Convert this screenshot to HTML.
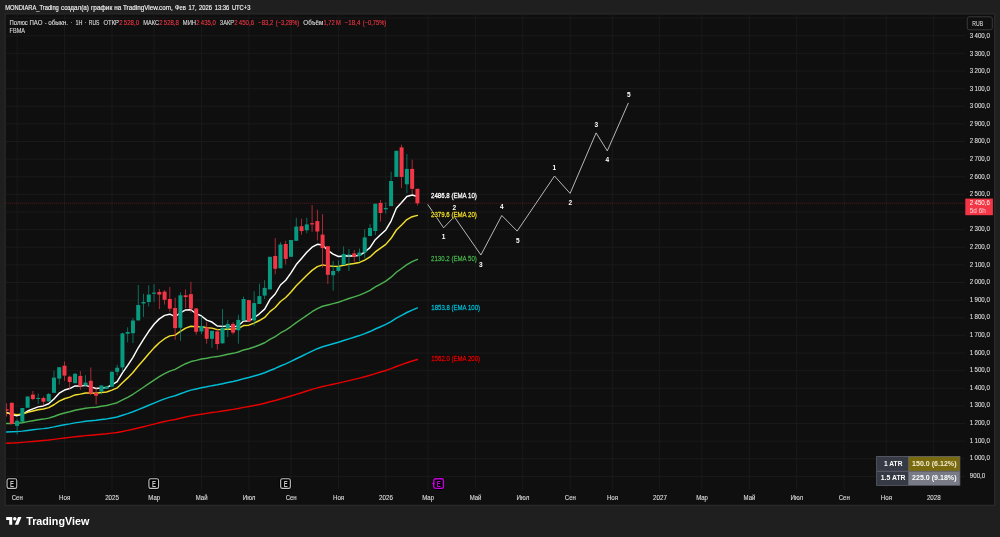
<!DOCTYPE html>
<html lang="ru"><head><meta charset="utf-8"><title>Полюс ПАО — TradingView</title>
<style>html,body{margin:0;padding:0;background:#1f1f1f;overflow:hidden}svg{display:block}</style></head>
<body>
<svg width="1000" height="537" viewBox="0 0 1000 537" font-family="'Liberation Sans', sans-serif">
<rect width="1000" height="537" fill="#1f1f1f"/>
<rect x="4.5" y="13.2" width="990.8000000000001" height="492.8" rx="1" fill="#292929"/>
<rect x="5.8" y="14.5" width="988.2" height="490.2" fill="#0f0f0f"/>
<g stroke="#1a1a1a" stroke-width="1" shape-rendering="auto">
<line x1="5.8" y1="476.40" x2="965.0" y2="476.40"/>
<line x1="5.8" y1="458.77" x2="965.0" y2="458.77"/>
<line x1="5.8" y1="441.15" x2="965.0" y2="441.15"/>
<line x1="5.8" y1="423.52" x2="965.0" y2="423.52"/>
<line x1="5.8" y1="405.90" x2="965.0" y2="405.90"/>
<line x1="5.8" y1="388.27" x2="965.0" y2="388.27"/>
<line x1="5.8" y1="370.64" x2="965.0" y2="370.64"/>
<line x1="5.8" y1="353.02" x2="965.0" y2="353.02"/>
<line x1="5.8" y1="335.39" x2="965.0" y2="335.39"/>
<line x1="5.8" y1="317.77" x2="965.0" y2="317.77"/>
<line x1="5.8" y1="300.14" x2="965.0" y2="300.14"/>
<line x1="5.8" y1="282.51" x2="965.0" y2="282.51"/>
<line x1="5.8" y1="264.89" x2="965.0" y2="264.89"/>
<line x1="5.8" y1="247.26" x2="965.0" y2="247.26"/>
<line x1="5.8" y1="229.64" x2="965.0" y2="229.64"/>
<line x1="5.8" y1="212.01" x2="965.0" y2="212.01"/>
<line x1="5.8" y1="194.38" x2="965.0" y2="194.38"/>
<line x1="5.8" y1="176.76" x2="965.0" y2="176.76"/>
<line x1="5.8" y1="159.13" x2="965.0" y2="159.13"/>
<line x1="5.8" y1="141.51" x2="965.0" y2="141.51"/>
<line x1="5.8" y1="123.88" x2="965.0" y2="123.88"/>
<line x1="5.8" y1="106.25" x2="965.0" y2="106.25"/>
<line x1="5.8" y1="88.63" x2="965.0" y2="88.63"/>
<line x1="5.8" y1="71.00" x2="965.0" y2="71.00"/>
<line x1="5.8" y1="53.38" x2="965.0" y2="53.38"/>
<line x1="5.8" y1="35.75" x2="965.0" y2="35.75"/>
<line x1="5.8" y1="18.12" x2="965.0" y2="18.12"/>
<line x1="17.09" y1="14.5" x2="17.09" y2="489.6"/>
<line x1="64.49" y1="14.5" x2="64.49" y2="489.6"/>
<line x1="111.90" y1="14.5" x2="111.90" y2="489.6"/>
<line x1="154.04" y1="14.5" x2="154.04" y2="489.6"/>
<line x1="201.45" y1="14.5" x2="201.45" y2="489.6"/>
<line x1="248.86" y1="14.5" x2="248.86" y2="489.6"/>
<line x1="291.00" y1="14.5" x2="291.00" y2="489.6"/>
<line x1="338.40" y1="14.5" x2="338.40" y2="489.6"/>
<line x1="385.81" y1="14.5" x2="385.81" y2="489.6"/>
<line x1="427.95" y1="14.5" x2="427.95" y2="489.6"/>
<line x1="475.36" y1="14.5" x2="475.36" y2="489.6"/>
<line x1="522.76" y1="14.5" x2="522.76" y2="489.6"/>
<line x1="570.17" y1="14.5" x2="570.17" y2="489.6"/>
<line x1="612.31" y1="14.5" x2="612.31" y2="489.6"/>
<line x1="659.72" y1="14.5" x2="659.72" y2="489.6"/>
<line x1="701.86" y1="14.5" x2="701.86" y2="489.6"/>
<line x1="749.27" y1="14.5" x2="749.27" y2="489.6"/>
<line x1="796.67" y1="14.5" x2="796.67" y2="489.6"/>
<line x1="844.08" y1="14.5" x2="844.08" y2="489.6"/>
<line x1="886.22" y1="14.5" x2="886.22" y2="489.6"/>
<line x1="933.63" y1="14.5" x2="933.63" y2="489.6"/>
</g>
<clipPath id="cp"><rect x="5.8" y="14.5" width="959.2" height="475.1"/></clipPath>
<g clip-path="url(#cp)">
<polyline points="6.55,443.30 11.82,443.05 17.09,442.78 22.35,442.39 27.62,441.90 32.89,441.43 38.16,440.96 43.42,440.54 48.69,440.04 53.96,439.39 59.22,438.64 64.49,437.98 69.76,437.39 75.03,436.72 80.30,436.19 85.56,435.63 90.83,435.19 96.10,434.76 101.36,434.25 106.63,433.74 111.90,433.10 117.17,432.43 122.44,431.42 127.70,430.41 132.97,429.29 138.24,428.03 143.51,426.76 148.77,425.42 154.04,424.08 159.31,422.77 164.58,421.53 169.84,420.39 175.11,419.46 180.38,418.21 185.65,416.99 190.91,415.90 196.18,415.05 201.45,414.16 206.72,413.40 211.98,412.57 217.25,411.88 222.52,411.03 227.79,410.16 233.05,409.39 238.32,408.49 243.59,407.40 248.86,406.54 254.12,405.51 259.39,404.43 264.66,403.27 269.93,401.82 275.19,400.50 280.46,398.95 285.73,397.56 291.00,396.00 296.26,394.33 301.53,392.71 306.80,391.05 312.06,389.40 317.33,387.84 322.60,386.47 327.87,385.37 333.13,384.25 338.40,383.10 343.67,381.84 348.94,380.59 354.21,379.38 359.47,378.14 364.74,376.76 370.01,375.31 375.28,373.63 380.54,372.06 385.81,370.45 391.08,368.60 396.35,366.47 401.61,364.62 406.88,362.71 412.15,361.02 417.42,359.51" fill="none" stroke="#e60000" stroke-width="1.45" stroke-linejoin="round" stroke-linecap="round"/>
<polyline points="6.55,432.00 11.82,431.83 17.09,431.60 22.35,431.12 27.62,430.42 32.89,429.79 38.16,429.15 43.42,428.60 48.69,427.91 53.96,426.90 59.22,425.71 64.49,424.71 69.76,423.85 75.03,422.85 80.30,422.12 85.56,421.33 90.83,420.77 96.10,420.27 101.36,419.57 106.63,418.91 111.90,417.97 117.17,416.96 122.44,415.30 127.70,413.64 132.97,411.79 138.24,409.67 143.51,407.53 148.77,405.29 154.04,403.05 159.31,400.90 164.58,398.89 169.84,397.10 175.11,395.72 180.38,393.73 185.65,391.81 190.91,390.16 196.18,389.00 201.45,387.75 206.72,386.77 211.98,385.66 217.25,384.83 222.52,383.70 227.79,382.51 233.05,381.52 238.32,380.30 243.59,378.68 248.86,377.55 254.12,376.07 259.39,374.49 264.66,372.77 269.93,370.47 275.19,368.46 280.46,366.00 285.73,363.88 291.00,361.43 296.26,358.76 301.53,356.23 306.80,353.62 312.06,351.07 317.33,348.70 322.60,346.71 327.87,345.29 333.13,343.82 338.40,342.30 343.67,340.55 348.94,338.85 354.21,337.23 359.47,335.56 364.74,333.62 370.01,331.53 375.28,329.01 380.54,326.72 385.81,324.37 391.08,321.54 396.35,318.17 401.61,315.38 406.88,312.49 412.15,310.05 417.42,307.95" fill="none" stroke="#00bcd4" stroke-width="1.45" stroke-linejoin="round" stroke-linecap="round"/>
<polyline points="6.55,423.40 11.82,423.40 17.09,423.28 22.35,422.67 27.62,421.63 32.89,420.72 38.16,419.82 43.42,419.09 48.69,418.09 53.96,416.49 59.22,414.54 64.49,412.99 69.76,411.76 75.03,410.26 80.30,409.30 85.56,408.24 90.83,407.65 96.10,407.17 101.36,406.30 106.63,405.50 111.90,404.16 117.17,402.72 122.44,399.98 127.70,397.30 132.97,394.27 138.24,390.76 143.51,387.26 148.77,383.61 154.04,380.03 159.31,376.66 164.58,373.63 169.84,371.07 175.11,369.37 180.38,366.45 185.65,363.72 190.91,361.55 196.18,360.37 201.45,359.01 206.72,358.20 211.98,357.11 217.25,356.59 222.52,355.45 227.79,354.20 233.05,353.34 238.32,352.02 243.59,349.93 248.86,348.81 254.12,347.00 259.39,345.00 264.66,342.75 269.93,339.38 275.19,336.60 280.46,332.98 285.73,330.07 291.00,326.54 296.26,322.61 301.53,319.02 306.80,315.31 312.06,311.74 317.33,308.59 322.60,306.22 327.87,304.99 333.13,303.65 338.40,302.21 343.67,300.32 348.94,298.53 354.21,296.89 359.47,295.15 364.74,292.89 370.01,290.35 375.28,286.96 380.54,284.07 385.81,281.09 391.08,277.18 396.35,272.23 401.61,268.50 406.88,264.61 412.15,261.65 417.42,259.39" fill="none" stroke="#4caf50" stroke-width="1.45" stroke-linejoin="round" stroke-linecap="round"/>
<polyline points="6.55,412.40 11.82,414.53 17.09,415.67 22.35,414.27 27.62,411.04 32.89,408.85 38.16,406.88 43.42,405.94 48.69,403.77 53.96,399.01 59.22,393.23 64.49,390.02 69.76,388.56 75.03,385.88 80.30,385.96 85.56,385.35 90.83,386.86 96.10,388.47 101.36,387.93 106.63,387.63 111.90,384.76 117.17,381.65 122.44,372.88 127.70,365.45 132.97,357.28 138.24,347.77 143.51,339.45 148.77,331.29 154.04,324.26 159.31,318.87 164.58,315.40 169.84,314.18 175.11,316.71 180.38,312.82 185.65,309.96 190.91,309.73 196.18,313.74 201.45,315.95 206.72,320.11 211.98,322.05 217.25,326.04 222.52,326.36 227.79,325.91 233.05,327.13 238.32,325.82 243.59,320.94 248.86,321.02 254.12,317.76 259.39,313.83 264.66,309.11 269.93,299.60 275.19,294.00 280.46,285.00 285.73,280.25 291.00,272.94 296.26,264.51 301.53,258.44 306.80,252.25 312.06,247.18 317.33,244.33 322.60,245.02 327.87,250.43 333.13,254.17 338.40,256.47 343.67,256.02 348.94,255.74 354.21,255.92 359.47,255.30 364.74,252.04 370.01,247.67 375.28,239.68 380.54,234.83 385.81,229.95 391.08,221.05 396.35,208.28 401.61,202.57 406.88,196.45 412.15,195.06 417.42,196.56" fill="none" stroke="#ffffff" stroke-width="1.45" stroke-linejoin="round" stroke-linecap="round"/>
<polyline points="6.55,412.90 11.82,413.97 17.09,414.62 22.35,413.99 27.62,412.32 32.89,411.05 38.16,409.81 43.42,409.04 48.69,407.61 53.96,404.75 59.22,401.17 64.49,398.74 69.76,397.14 75.03,394.92 80.30,394.10 85.56,393.00 90.83,393.07 96.10,393.32 101.36,392.58 106.63,391.98 111.90,390.06 117.17,387.93 122.44,382.73 127.70,377.90 132.97,372.44 138.24,366.01 143.51,359.92 148.77,353.70 154.04,347.88 159.31,342.80 164.58,338.71 169.84,335.85 175.11,335.11 180.38,331.32 185.65,328.06 190.91,326.22 196.18,326.75 201.45,326.67 206.72,327.82 211.98,328.11 217.25,329.62 222.52,329.45 227.79,328.92 233.05,329.27 238.32,328.38 243.59,325.58 248.86,325.18 254.12,323.08 259.39,320.51 264.66,317.40 269.93,311.63 275.19,307.55 280.46,301.55 285.73,297.49 291.00,292.01 296.26,285.78 301.53,280.57 306.80,275.22 312.06,270.38 317.33,266.68 322.60,264.91 327.87,265.85 333.13,266.34 338.40,266.39 343.67,265.21 348.94,264.19 354.21,263.47 359.47,262.43 364.74,260.05 370.01,256.99 375.28,251.92 380.54,248.21 385.81,244.38 391.08,238.35 396.35,230.01 401.61,224.95 406.88,219.61 412.15,216.68 417.42,215.40" fill="none" stroke="#f2de2e" stroke-width="1.45" stroke-linejoin="round" stroke-linecap="round"/>
<rect x="6.15" y="403.20" width="0.8" height="13.40" fill="#f23645" fill-opacity="0.85"/>
<rect x="4.55" y="409.20" width="4.0" height="1.50" fill="#f23645"/>
<rect x="11.42" y="402.50" width="0.8" height="21.60" fill="#f23645" fill-opacity="0.85"/>
<rect x="9.82" y="402.80" width="4.0" height="21.30" fill="#f23645"/>
<rect x="16.69" y="418.80" width="0.8" height="15.70" fill="#089981" fill-opacity="0.85"/>
<rect x="15.09" y="420.80" width="4.0" height="5.10" fill="#089981"/>
<rect x="21.95" y="408.00" width="0.8" height="13.80" fill="#089981" fill-opacity="0.85"/>
<rect x="20.35" y="408.00" width="4.0" height="13.80" fill="#089981"/>
<rect x="27.22" y="396.50" width="0.8" height="11.20" fill="#089981" fill-opacity="0.85"/>
<rect x="25.62" y="396.50" width="4.0" height="11.20" fill="#089981"/>
<rect x="32.49" y="391.00" width="0.8" height="9.20" fill="#f23645" fill-opacity="0.85"/>
<rect x="30.89" y="394.60" width="4.0" height="4.40" fill="#f23645"/>
<rect x="37.76" y="393.50" width="0.8" height="10.50" fill="#089981" fill-opacity="0.85"/>
<rect x="36.16" y="398.00" width="4.0" height="1.00" fill="#089981"/>
<rect x="43.02" y="396.50" width="0.8" height="8.90" fill="#f23645" fill-opacity="0.85"/>
<rect x="41.42" y="398.00" width="4.0" height="3.70" fill="#f23645"/>
<rect x="48.29" y="393.00" width="0.8" height="8.70" fill="#089981" fill-opacity="0.85"/>
<rect x="46.69" y="394.00" width="4.0" height="7.40" fill="#089981"/>
<rect x="53.56" y="370.70" width="0.8" height="22.10" fill="#089981" fill-opacity="0.85"/>
<rect x="51.96" y="377.60" width="4.0" height="15.20" fill="#089981"/>
<rect x="58.82" y="367.20" width="0.8" height="17.40" fill="#089981" fill-opacity="0.85"/>
<rect x="57.22" y="367.20" width="4.0" height="11.40" fill="#089981"/>
<rect x="64.09" y="361.50" width="0.8" height="19.40" fill="#f23645" fill-opacity="0.85"/>
<rect x="62.49" y="365.70" width="4.0" height="9.90" fill="#f23645"/>
<rect x="69.36" y="375.60" width="0.8" height="13.40" fill="#f23645" fill-opacity="0.85"/>
<rect x="67.76" y="376.70" width="4.0" height="5.30" fill="#f23645"/>
<rect x="74.63" y="372.90" width="0.8" height="10.40" fill="#089981" fill-opacity="0.85"/>
<rect x="73.03" y="373.80" width="4.0" height="9.40" fill="#089981"/>
<rect x="79.89" y="371.10" width="0.8" height="18.60" fill="#f23645" fill-opacity="0.85"/>
<rect x="78.30" y="375.90" width="4.0" height="10.40" fill="#f23645"/>
<rect x="85.16" y="375.10" width="0.8" height="11.20" fill="#089981" fill-opacity="0.85"/>
<rect x="83.56" y="382.60" width="4.0" height="2.90" fill="#089981"/>
<rect x="90.43" y="367.40" width="0.8" height="27.80" fill="#f23645" fill-opacity="0.85"/>
<rect x="88.83" y="380.80" width="4.0" height="12.90" fill="#f23645"/>
<rect x="95.70" y="387.00" width="0.8" height="17.50" fill="#f23645" fill-opacity="0.85"/>
<rect x="94.10" y="393.00" width="4.0" height="2.70" fill="#f23645"/>
<rect x="100.96" y="385.10" width="0.8" height="9.40" fill="#089981" fill-opacity="0.85"/>
<rect x="99.36" y="385.50" width="4.0" height="6.00" fill="#089981"/>
<rect x="106.23" y="386.00" width="0.8" height="3.00" fill="#089981" fill-opacity="0.85"/>
<rect x="104.63" y="386.30" width="4.0" height="2.50" fill="#089981"/>
<rect x="111.50" y="371.40" width="0.8" height="15.90" fill="#089981" fill-opacity="0.85"/>
<rect x="109.90" y="371.80" width="4.0" height="14.90" fill="#089981"/>
<rect x="116.77" y="364.70" width="0.8" height="10.70" fill="#089981" fill-opacity="0.85"/>
<rect x="115.17" y="367.70" width="4.0" height="4.10" fill="#089981"/>
<rect x="122.03" y="332.70" width="0.8" height="39.40" fill="#089981" fill-opacity="0.85"/>
<rect x="120.44" y="333.40" width="4.0" height="34.00" fill="#089981"/>
<rect x="127.30" y="327.30" width="0.8" height="15.10" fill="#089981" fill-opacity="0.85"/>
<rect x="125.70" y="332.00" width="4.0" height="1.70" fill="#089981"/>
<rect x="132.57" y="318.00" width="0.8" height="25.00" fill="#089981" fill-opacity="0.85"/>
<rect x="130.97" y="320.50" width="4.0" height="12.70" fill="#089981"/>
<rect x="137.84" y="284.90" width="0.8" height="35.50" fill="#089981" fill-opacity="0.85"/>
<rect x="136.24" y="305.00" width="4.0" height="15.40" fill="#089981"/>
<rect x="143.11" y="293.80" width="0.8" height="23.10" fill="#089981" fill-opacity="0.85"/>
<rect x="141.51" y="302.00" width="4.0" height="1.50" fill="#089981"/>
<rect x="148.37" y="285.30" width="0.8" height="21.20" fill="#089981" fill-opacity="0.85"/>
<rect x="146.77" y="294.60" width="4.0" height="7.40" fill="#089981"/>
<rect x="153.64" y="284.20" width="0.8" height="17.80" fill="#089981" fill-opacity="0.85"/>
<rect x="152.04" y="292.60" width="4.0" height="1.20" fill="#089981"/>
<rect x="158.91" y="289.00" width="0.8" height="20.00" fill="#f23645" fill-opacity="0.85"/>
<rect x="157.31" y="292.00" width="4.0" height="2.60" fill="#f23645"/>
<rect x="164.18" y="290.10" width="0.8" height="14.50" fill="#f23645" fill-opacity="0.85"/>
<rect x="162.58" y="291.60" width="4.0" height="8.20" fill="#f23645"/>
<rect x="169.44" y="287.10" width="0.8" height="24.60" fill="#f23645" fill-opacity="0.85"/>
<rect x="167.84" y="299.00" width="4.0" height="9.70" fill="#f23645"/>
<rect x="174.71" y="297.60" width="0.8" height="42.10" fill="#f23645" fill-opacity="0.85"/>
<rect x="173.11" y="308.00" width="4.0" height="20.10" fill="#f23645"/>
<rect x="179.98" y="292.30" width="0.8" height="48.50" fill="#089981" fill-opacity="0.85"/>
<rect x="178.38" y="295.30" width="4.0" height="32.50" fill="#089981"/>
<rect x="185.25" y="289.40" width="0.8" height="18.60" fill="#f23645" fill-opacity="0.85"/>
<rect x="183.65" y="295.30" width="4.0" height="1.80" fill="#f23645"/>
<rect x="190.51" y="281.90" width="0.8" height="30.60" fill="#f23645" fill-opacity="0.85"/>
<rect x="188.91" y="294.10" width="4.0" height="14.60" fill="#f23645"/>
<rect x="195.78" y="308.00" width="0.8" height="26.80" fill="#f23645" fill-opacity="0.85"/>
<rect x="194.18" y="308.50" width="4.0" height="23.30" fill="#f23645"/>
<rect x="201.05" y="316.20" width="0.8" height="17.90" fill="#089981" fill-opacity="0.85"/>
<rect x="199.45" y="325.90" width="4.0" height="5.50" fill="#089981"/>
<rect x="206.31" y="322.10" width="0.8" height="21.60" fill="#f23645" fill-opacity="0.85"/>
<rect x="204.72" y="327.40" width="4.0" height="11.40" fill="#f23645"/>
<rect x="211.58" y="330.80" width="0.8" height="17.00" fill="#089981" fill-opacity="0.85"/>
<rect x="209.98" y="330.80" width="4.0" height="8.00" fill="#089981"/>
<rect x="216.85" y="328.80" width="0.8" height="20.90" fill="#f23645" fill-opacity="0.85"/>
<rect x="215.25" y="331.40" width="4.0" height="12.60" fill="#f23645"/>
<rect x="222.12" y="309.00" width="0.8" height="34.70" fill="#089981" fill-opacity="0.85"/>
<rect x="220.52" y="327.80" width="4.0" height="15.50" fill="#089981"/>
<rect x="227.39" y="319.90" width="0.8" height="17.10" fill="#089981" fill-opacity="0.85"/>
<rect x="225.79" y="323.90" width="4.0" height="4.50" fill="#089981"/>
<rect x="232.65" y="322.10" width="0.8" height="12.30" fill="#f23645" fill-opacity="0.85"/>
<rect x="231.05" y="323.90" width="4.0" height="8.70" fill="#f23645"/>
<rect x="237.92" y="314.70" width="0.8" height="29.00" fill="#089981" fill-opacity="0.85"/>
<rect x="236.32" y="319.90" width="4.0" height="10.40" fill="#089981"/>
<rect x="243.19" y="296.50" width="0.8" height="24.20" fill="#089981" fill-opacity="0.85"/>
<rect x="241.59" y="299.00" width="4.0" height="21.70" fill="#089981"/>
<rect x="248.46" y="299.80" width="0.8" height="22.30" fill="#f23645" fill-opacity="0.85"/>
<rect x="246.86" y="300.10" width="4.0" height="21.30" fill="#f23645"/>
<rect x="253.72" y="291.20" width="0.8" height="34.70" fill="#089981" fill-opacity="0.85"/>
<rect x="252.12" y="303.10" width="4.0" height="17.30" fill="#089981"/>
<rect x="258.99" y="283.70" width="0.8" height="20.30" fill="#089981" fill-opacity="0.85"/>
<rect x="257.39" y="296.10" width="4.0" height="7.90" fill="#089981"/>
<rect x="264.26" y="280.10" width="0.8" height="18.90" fill="#089981" fill-opacity="0.85"/>
<rect x="262.66" y="287.90" width="4.0" height="7.70" fill="#089981"/>
<rect x="269.53" y="256.80" width="0.8" height="32.60" fill="#089981" fill-opacity="0.85"/>
<rect x="267.93" y="256.80" width="4.0" height="32.60" fill="#089981"/>
<rect x="274.79" y="238.10" width="0.8" height="36.20" fill="#f23645" fill-opacity="0.85"/>
<rect x="273.19" y="256.00" width="4.0" height="12.80" fill="#f23645"/>
<rect x="280.06" y="242.20" width="0.8" height="26.10" fill="#089981" fill-opacity="0.85"/>
<rect x="278.46" y="244.50" width="4.0" height="23.80" fill="#089981"/>
<rect x="285.33" y="240.80" width="0.8" height="23.80" fill="#f23645" fill-opacity="0.85"/>
<rect x="283.73" y="244.00" width="4.0" height="14.90" fill="#f23645"/>
<rect x="290.60" y="240.00" width="0.8" height="16.80" fill="#089981" fill-opacity="0.85"/>
<rect x="289.00" y="240.00" width="4.0" height="16.80" fill="#089981"/>
<rect x="295.86" y="217.70" width="0.8" height="23.10" fill="#089981" fill-opacity="0.85"/>
<rect x="294.26" y="226.60" width="4.0" height="14.20" fill="#089981"/>
<rect x="301.13" y="218.70" width="0.8" height="16.10" fill="#f23645" fill-opacity="0.85"/>
<rect x="299.53" y="226.20" width="4.0" height="4.90" fill="#f23645"/>
<rect x="306.40" y="217.70" width="0.8" height="15.60" fill="#089981" fill-opacity="0.85"/>
<rect x="304.80" y="224.40" width="4.0" height="5.90" fill="#089981"/>
<rect x="311.67" y="205.00" width="0.8" height="26.80" fill="#f23645" fill-opacity="0.85"/>
<rect x="310.06" y="223.20" width="4.0" height="1.20" fill="#f23645"/>
<rect x="316.93" y="209.80" width="0.8" height="30.70" fill="#f23645" fill-opacity="0.85"/>
<rect x="315.33" y="221.10" width="4.0" height="10.40" fill="#f23645"/>
<rect x="322.20" y="214.20" width="0.8" height="53.50" fill="#f23645" fill-opacity="0.85"/>
<rect x="320.60" y="234.60" width="4.0" height="13.50" fill="#f23645"/>
<rect x="327.47" y="246.20" width="0.8" height="37.70" fill="#f23645" fill-opacity="0.85"/>
<rect x="325.87" y="246.20" width="4.0" height="28.60" fill="#f23645"/>
<rect x="332.74" y="261.00" width="0.8" height="29.70" fill="#089981" fill-opacity="0.85"/>
<rect x="331.13" y="271.00" width="4.0" height="4.20" fill="#089981"/>
<rect x="338.00" y="260.40" width="0.8" height="12.00" fill="#089981" fill-opacity="0.85"/>
<rect x="336.40" y="266.80" width="4.0" height="4.10" fill="#089981"/>
<rect x="343.27" y="246.30" width="0.8" height="18.60" fill="#089981" fill-opacity="0.85"/>
<rect x="341.67" y="254.00" width="4.0" height="10.90" fill="#089981"/>
<rect x="348.54" y="249.00" width="0.8" height="21.90" fill="#089981" fill-opacity="0.85"/>
<rect x="346.94" y="254.50" width="4.0" height="1.00" fill="#089981"/>
<rect x="353.81" y="250.00" width="0.8" height="12.40" fill="#f23645" fill-opacity="0.85"/>
<rect x="352.21" y="253.40" width="4.0" height="3.30" fill="#f23645"/>
<rect x="359.07" y="248.50" width="0.8" height="12.70" fill="#089981" fill-opacity="0.85"/>
<rect x="357.47" y="252.50" width="4.0" height="3.50" fill="#089981"/>
<rect x="364.34" y="229.10" width="0.8" height="29.10" fill="#089981" fill-opacity="0.85"/>
<rect x="362.74" y="237.40" width="4.0" height="15.10" fill="#089981"/>
<rect x="369.61" y="224.20" width="0.8" height="12.00" fill="#089981" fill-opacity="0.85"/>
<rect x="368.01" y="228.00" width="4.0" height="8.00" fill="#089981"/>
<rect x="374.88" y="203.70" width="0.8" height="31.30" fill="#089981" fill-opacity="0.85"/>
<rect x="373.28" y="203.70" width="4.0" height="27.30" fill="#089981"/>
<rect x="380.14" y="200.00" width="0.8" height="21.60" fill="#f23645" fill-opacity="0.85"/>
<rect x="378.54" y="202.90" width="4.0" height="10.10" fill="#f23645"/>
<rect x="385.41" y="202.40" width="0.8" height="11.20" fill="#089981" fill-opacity="0.85"/>
<rect x="383.81" y="208.00" width="4.0" height="1.30" fill="#089981"/>
<rect x="390.68" y="171.70" width="0.8" height="34.40" fill="#089981" fill-opacity="0.85"/>
<rect x="389.08" y="181.00" width="4.0" height="25.10" fill="#089981"/>
<rect x="395.95" y="150.80" width="0.8" height="26.10" fill="#089981" fill-opacity="0.85"/>
<rect x="394.35" y="150.80" width="4.0" height="26.10" fill="#089981"/>
<rect x="401.21" y="144.70" width="0.8" height="43.30" fill="#f23645" fill-opacity="0.85"/>
<rect x="399.61" y="147.40" width="4.0" height="29.50" fill="#f23645"/>
<rect x="406.48" y="154.00" width="0.8" height="39.10" fill="#089981" fill-opacity="0.85"/>
<rect x="404.88" y="168.90" width="4.0" height="15.40" fill="#089981"/>
<rect x="411.75" y="159.60" width="0.8" height="34.40" fill="#f23645" fill-opacity="0.85"/>
<rect x="410.15" y="168.90" width="4.0" height="19.90" fill="#f23645"/>
<rect x="417.02" y="188.80" width="0.8" height="16.70" fill="#f23645" fill-opacity="0.85"/>
<rect x="415.42" y="188.80" width="4.0" height="14.50" fill="#f23645"/>
</g>
<line x1="5.8" y1="203.2" x2="965.0" y2="203.2" stroke="#f23645" stroke-opacity="0.34" stroke-width="1" stroke-dasharray="1 1"/>
<polyline points="427.7,204.4 443.6,227.8 454.3,216.7 480.9,255 501.8,215.5 517.2,231.1 554.5,176.0 570.1,193.4 596.1,132.9 607.3,150.9 628.4,102.9" fill="none" stroke="#c8c8c8" stroke-width="0.9" stroke-linejoin="miter"/>
<text x="443.6" y="238.9" font-size="6.5" font-weight="bold" fill="#ffffff" text-anchor="middle">1</text>
<text x="454.3" y="209.8" font-size="6.5" font-weight="bold" fill="#ffffff" text-anchor="middle">2</text>
<text x="480.9" y="266.6" font-size="6.5" font-weight="bold" fill="#ffffff" text-anchor="middle">3</text>
<text x="501.8" y="209.20000000000002" font-size="6.5" font-weight="bold" fill="#ffffff" text-anchor="middle">4</text>
<text x="517.8" y="242.60000000000002" font-size="6.5" font-weight="bold" fill="#ffffff" text-anchor="middle">5</text>
<text x="554.4" y="170.20000000000002" font-size="6.5" font-weight="bold" fill="#ffffff" text-anchor="middle">1</text>
<text x="570.3" y="204.60000000000002" font-size="6.5" font-weight="bold" fill="#ffffff" text-anchor="middle">2</text>
<text x="596.4" y="126.6" font-size="6.5" font-weight="bold" fill="#ffffff" text-anchor="middle">3</text>
<text x="607.3" y="162.3" font-size="6.5" font-weight="bold" fill="#ffffff" text-anchor="middle">4</text>
<text x="628.7" y="96.6" font-size="6.5" font-weight="bold" fill="#ffffff" text-anchor="middle">5</text>
<text x="431.1" y="198.29999999999998" font-size="7.1" fill="#000" textLength="45.7" lengthAdjust="spacingAndGlyphs" stroke="#000" stroke-width="1.1">2486.8 (EMA 10)</text>
<text x="431.1" y="198.29999999999998" font-size="7.1" fill="#ffffff" textLength="45.7" lengthAdjust="spacingAndGlyphs" stroke="#ffffff" stroke-width="0.28">2486.8 (EMA 10)</text>
<text x="431.1" y="217.29999999999998" font-size="7.1" fill="#000" textLength="45.7" lengthAdjust="spacingAndGlyphs" stroke="#000" stroke-width="1.1">2379.6 (EMA 20)</text>
<text x="431.1" y="217.29999999999998" font-size="7.1" fill="#f2de2e" textLength="45.7" lengthAdjust="spacingAndGlyphs" stroke="#f2de2e" stroke-width="0.28">2379.6 (EMA 20)</text>
<text x="431.1" y="261.3" font-size="7.1" fill="#000" textLength="45.7" lengthAdjust="spacingAndGlyphs" stroke="#000" stroke-width="1.1">2130.2 (EMA 50)</text>
<text x="431.1" y="261.3" font-size="7.1" fill="#4caf50" textLength="45.7" lengthAdjust="spacingAndGlyphs" stroke="#4caf50" stroke-width="0.28">2130.2 (EMA 50)</text>
<text x="431.3" y="310.20000000000005" font-size="7.1" fill="#000" textLength="48.8" lengthAdjust="spacingAndGlyphs" stroke="#000" stroke-width="1.1">1853.8 (EMA 100)</text>
<text x="431.3" y="310.20000000000005" font-size="7.1" fill="#00bcd4" textLength="48.8" lengthAdjust="spacingAndGlyphs" stroke="#00bcd4" stroke-width="0.28">1853.8 (EMA 100)</text>
<text x="431.3" y="361.20000000000005" font-size="7.1" fill="#000" textLength="48.8" lengthAdjust="spacingAndGlyphs" stroke="#000" stroke-width="1.1">1562.0 (EMA 200)</text>
<text x="431.3" y="361.20000000000005" font-size="7.1" fill="#e60000" textLength="48.8" lengthAdjust="spacingAndGlyphs" stroke="#e60000" stroke-width="0.28">1562.0 (EMA 200)</text>
<text x="969.8" y="477.80" font-size="6.8" fill="#dcdcdc" stroke="#dcdcdc" stroke-width="0.12" textLength="15.4" lengthAdjust="spacingAndGlyphs">900,0</text>
<text x="969.8" y="460.20" font-size="6.8" fill="#dcdcdc" stroke="#dcdcdc" stroke-width="0.12" textLength="20.1" lengthAdjust="spacingAndGlyphs">1 000,0</text>
<text x="969.8" y="442.61" font-size="6.8" fill="#dcdcdc" stroke="#dcdcdc" stroke-width="0.12" textLength="20.1" lengthAdjust="spacingAndGlyphs">1 100,0</text>
<text x="969.8" y="425.01" font-size="6.8" fill="#dcdcdc" stroke="#dcdcdc" stroke-width="0.12" textLength="20.1" lengthAdjust="spacingAndGlyphs">1 200,0</text>
<text x="969.8" y="407.42" font-size="6.8" fill="#dcdcdc" stroke="#dcdcdc" stroke-width="0.12" textLength="20.1" lengthAdjust="spacingAndGlyphs">1 300,0</text>
<text x="969.8" y="389.82" font-size="6.8" fill="#dcdcdc" stroke="#dcdcdc" stroke-width="0.12" textLength="20.1" lengthAdjust="spacingAndGlyphs">1 400,0</text>
<text x="969.8" y="372.22" font-size="6.8" fill="#dcdcdc" stroke="#dcdcdc" stroke-width="0.12" textLength="20.1" lengthAdjust="spacingAndGlyphs">1 500,0</text>
<text x="969.8" y="354.63" font-size="6.8" fill="#dcdcdc" stroke="#dcdcdc" stroke-width="0.12" textLength="20.1" lengthAdjust="spacingAndGlyphs">1 600,0</text>
<text x="969.8" y="337.03" font-size="6.8" fill="#dcdcdc" stroke="#dcdcdc" stroke-width="0.12" textLength="20.1" lengthAdjust="spacingAndGlyphs">1 700,0</text>
<text x="969.8" y="319.44" font-size="6.8" fill="#dcdcdc" stroke="#dcdcdc" stroke-width="0.12" textLength="20.1" lengthAdjust="spacingAndGlyphs">1 800,0</text>
<text x="969.8" y="301.84" font-size="6.8" fill="#dcdcdc" stroke="#dcdcdc" stroke-width="0.12" textLength="20.1" lengthAdjust="spacingAndGlyphs">1 900,0</text>
<text x="969.8" y="284.24" font-size="6.8" fill="#dcdcdc" stroke="#dcdcdc" stroke-width="0.12" textLength="20.1" lengthAdjust="spacingAndGlyphs">2 000,0</text>
<text x="969.8" y="266.65" font-size="6.8" fill="#dcdcdc" stroke="#dcdcdc" stroke-width="0.12" textLength="20.1" lengthAdjust="spacingAndGlyphs">2 100,0</text>
<text x="969.8" y="249.05" font-size="6.8" fill="#dcdcdc" stroke="#dcdcdc" stroke-width="0.12" textLength="20.1" lengthAdjust="spacingAndGlyphs">2 200,0</text>
<text x="969.8" y="231.46" font-size="6.8" fill="#dcdcdc" stroke="#dcdcdc" stroke-width="0.12" textLength="20.1" lengthAdjust="spacingAndGlyphs">2 300,0</text>
<text x="969.8" y="213.86" font-size="6.8" fill="#dcdcdc" stroke="#dcdcdc" stroke-width="0.12" textLength="20.1" lengthAdjust="spacingAndGlyphs">2 400,0</text>
<text x="969.8" y="196.26" font-size="6.8" fill="#dcdcdc" stroke="#dcdcdc" stroke-width="0.12" textLength="20.1" lengthAdjust="spacingAndGlyphs">2 500,0</text>
<text x="969.8" y="178.67" font-size="6.8" fill="#dcdcdc" stroke="#dcdcdc" stroke-width="0.12" textLength="20.1" lengthAdjust="spacingAndGlyphs">2 600,0</text>
<text x="969.8" y="161.07" font-size="6.8" fill="#dcdcdc" stroke="#dcdcdc" stroke-width="0.12" textLength="20.1" lengthAdjust="spacingAndGlyphs">2 700,0</text>
<text x="969.8" y="143.48" font-size="6.8" fill="#dcdcdc" stroke="#dcdcdc" stroke-width="0.12" textLength="20.1" lengthAdjust="spacingAndGlyphs">2 800,0</text>
<text x="969.8" y="125.88" font-size="6.8" fill="#dcdcdc" stroke="#dcdcdc" stroke-width="0.12" textLength="20.1" lengthAdjust="spacingAndGlyphs">2 900,0</text>
<text x="969.8" y="108.28" font-size="6.8" fill="#dcdcdc" stroke="#dcdcdc" stroke-width="0.12" textLength="20.1" lengthAdjust="spacingAndGlyphs">3 000,0</text>
<text x="969.8" y="90.69" font-size="6.8" fill="#dcdcdc" stroke="#dcdcdc" stroke-width="0.12" textLength="20.1" lengthAdjust="spacingAndGlyphs">3 100,0</text>
<text x="969.8" y="73.09" font-size="6.8" fill="#dcdcdc" stroke="#dcdcdc" stroke-width="0.12" textLength="20.1" lengthAdjust="spacingAndGlyphs">3 200,0</text>
<text x="969.8" y="55.50" font-size="6.8" fill="#dcdcdc" stroke="#dcdcdc" stroke-width="0.12" textLength="20.1" lengthAdjust="spacingAndGlyphs">3 300,0</text>
<text x="969.8" y="37.90" font-size="6.8" fill="#dcdcdc" stroke="#dcdcdc" stroke-width="0.12" textLength="20.1" lengthAdjust="spacingAndGlyphs">3 400,0</text>
<rect x="967.3" y="16.8" width="25" height="13" rx="2" fill="#0f0f0f" stroke="#3a3a3a" stroke-width="1"/>
<text x="972.3" y="26" font-size="6.6" fill="#e6e6e6" textLength="10.8" lengthAdjust="spacingAndGlyphs">RUB</text>
<rect x="965.3" y="198.6" width="27.6" height="16.6" fill="#f23645"/>
<text x="969.8" y="205.2" font-size="6.8" fill="#ffffff" textLength="20.1" lengthAdjust="spacingAndGlyphs">2 450,6</text>
<text x="969.8" y="212.6" font-size="6.4" fill="#fcd3d7" textLength="15.9" lengthAdjust="spacingAndGlyphs">5d 6h</text>
<rect x="876.2" y="456" width="84.1" height="29.8" fill="#5d606b"/>
<rect x="877" y="456.8" width="31" height="14" fill="#363a45"/>
<rect x="877" y="471.8" width="31" height="13.2" fill="#363a45"/>
<rect x="908.8" y="456.8" width="50.7" height="14" fill="#7a6a0f"/>
<rect x="908.8" y="471.8" width="50.7" height="13.2" fill="#787b86"/>
<text x="884" y="466.1" font-size="6.9" font-weight="bold" fill="#ffffff" textLength="18.5" lengthAdjust="spacingAndGlyphs">1 ATR</text>
<text x="880.8" y="480.3" font-size="6.9" font-weight="bold" fill="#ffffff" textLength="24.7" lengthAdjust="spacingAndGlyphs">1.5 ATR</text>
<text x="912" y="466.1" font-size="6.9" font-weight="bold" fill="#f3ecd0" textLength="44.5" lengthAdjust="spacingAndGlyphs">150.0 (6.12%)</text>
<text x="912" y="480.3" font-size="6.9" font-weight="bold" fill="#ffffff" textLength="44.5" lengthAdjust="spacingAndGlyphs">225.0 (9.18%)</text>
<rect x="7.05" y="478.70" width="9.7" height="9.7" rx="1.7" fill="#000" stroke="#000" stroke-width="2.6"/>
<rect x="7.05" y="478.70" width="9.7" height="9.7" rx="1.7" fill="none" stroke="#c4c4c4" stroke-width="1.1"/>
<text transform="translate(12.05,486.75) scale(0.66,1)" font-size="9" font-weight="bold" fill="#c4c4c4" text-anchor="middle">E</text>
<rect x="148.90" y="478.70" width="9.7" height="9.7" rx="1.7" fill="#000" stroke="#000" stroke-width="2.6"/>
<rect x="148.90" y="478.70" width="9.7" height="9.7" rx="1.7" fill="none" stroke="#c4c4c4" stroke-width="1.1"/>
<text transform="translate(153.90,486.75) scale(0.66,1)" font-size="9" font-weight="bold" fill="#c4c4c4" text-anchor="middle">E</text>
<rect x="280.65" y="478.70" width="9.7" height="9.7" rx="1.7" fill="#000" stroke="#000" stroke-width="2.6"/>
<rect x="280.65" y="478.70" width="9.7" height="9.7" rx="1.7" fill="none" stroke="#c4c4c4" stroke-width="1.1"/>
<text transform="translate(285.65,486.75) scale(0.66,1)" font-size="9" font-weight="bold" fill="#c4c4c4" text-anchor="middle">E</text>
<rect x="433.80" y="478.70" width="9.7" height="9.7" rx="1.7" fill="#000" stroke="#000" stroke-width="2.6"/>
<path d="M434.35 481.25 L431.65 483.90 L433.05 483.90 L432.55 485.85 L435.05 483.10 L433.65 483.10z" fill="#c400dc" stroke="#000" stroke-width="0.7" paint-order="stroke"/>
<rect x="433.80" y="478.70" width="9.7" height="9.7" rx="1.7" fill="none" stroke="#c400dc" stroke-width="1.4"/>
<text transform="translate(438.80,486.75) scale(0.66,1)" font-size="9" font-weight="bold" fill="#c400dc" text-anchor="middle">E</text>
<text x="11.76" y="500.3" font-size="6.7" fill="#dcdcdc" stroke="#dcdcdc" stroke-width="0.12" textLength="11.05" lengthAdjust="spacingAndGlyphs">Сен</text>
<text x="59.09" y="500.3" font-size="6.7" fill="#dcdcdc" stroke="#dcdcdc" stroke-width="0.12" textLength="11.2" lengthAdjust="spacingAndGlyphs">Ноя</text>
<text x="105.15" y="500.3" font-size="6.7" fill="#dcdcdc" stroke="#dcdcdc" stroke-width="0.12" textLength="13.9" lengthAdjust="spacingAndGlyphs">2025</text>
<text x="148.34" y="500.3" font-size="6.7" fill="#dcdcdc" stroke="#dcdcdc" stroke-width="0.12" textLength="11.8" lengthAdjust="spacingAndGlyphs">Мар</text>
<text x="195.75" y="500.3" font-size="6.7" fill="#dcdcdc" stroke="#dcdcdc" stroke-width="0.12" textLength="11.8" lengthAdjust="spacingAndGlyphs">Май</text>
<text x="242.66" y="500.3" font-size="6.7" fill="#dcdcdc" stroke="#dcdcdc" stroke-width="0.12" textLength="12.8" lengthAdjust="spacingAndGlyphs">Июл</text>
<text x="285.67" y="500.3" font-size="6.7" fill="#dcdcdc" stroke="#dcdcdc" stroke-width="0.12" textLength="11.05" lengthAdjust="spacingAndGlyphs">Сен</text>
<text x="333.00" y="500.3" font-size="6.7" fill="#dcdcdc" stroke="#dcdcdc" stroke-width="0.12" textLength="11.2" lengthAdjust="spacingAndGlyphs">Ноя</text>
<text x="379.06" y="500.3" font-size="6.7" fill="#dcdcdc" stroke="#dcdcdc" stroke-width="0.12" textLength="13.9" lengthAdjust="spacingAndGlyphs">2026</text>
<text x="422.25" y="500.3" font-size="6.7" fill="#dcdcdc" stroke="#dcdcdc" stroke-width="0.12" textLength="11.8" lengthAdjust="spacingAndGlyphs">Мар</text>
<text x="469.66" y="500.3" font-size="6.7" fill="#dcdcdc" stroke="#dcdcdc" stroke-width="0.12" textLength="11.8" lengthAdjust="spacingAndGlyphs">Май</text>
<text x="516.57" y="500.3" font-size="6.7" fill="#dcdcdc" stroke="#dcdcdc" stroke-width="0.12" textLength="12.8" lengthAdjust="spacingAndGlyphs">Июл</text>
<text x="564.85" y="500.3" font-size="6.7" fill="#dcdcdc" stroke="#dcdcdc" stroke-width="0.12" textLength="11.05" lengthAdjust="spacingAndGlyphs">Сен</text>
<text x="606.91" y="500.3" font-size="6.7" fill="#dcdcdc" stroke="#dcdcdc" stroke-width="0.12" textLength="11.2" lengthAdjust="spacingAndGlyphs">Ноя</text>
<text x="652.97" y="500.3" font-size="6.7" fill="#dcdcdc" stroke="#dcdcdc" stroke-width="0.12" textLength="13.9" lengthAdjust="spacingAndGlyphs">2027</text>
<text x="696.16" y="500.3" font-size="6.7" fill="#dcdcdc" stroke="#dcdcdc" stroke-width="0.12" textLength="11.8" lengthAdjust="spacingAndGlyphs">Мар</text>
<text x="743.57" y="500.3" font-size="6.7" fill="#dcdcdc" stroke="#dcdcdc" stroke-width="0.12" textLength="11.8" lengthAdjust="spacingAndGlyphs">Май</text>
<text x="790.48" y="500.3" font-size="6.7" fill="#dcdcdc" stroke="#dcdcdc" stroke-width="0.12" textLength="12.8" lengthAdjust="spacingAndGlyphs">Июл</text>
<text x="838.76" y="500.3" font-size="6.7" fill="#dcdcdc" stroke="#dcdcdc" stroke-width="0.12" textLength="11.05" lengthAdjust="spacingAndGlyphs">Сен</text>
<text x="880.82" y="500.3" font-size="6.7" fill="#dcdcdc" stroke="#dcdcdc" stroke-width="0.12" textLength="11.2" lengthAdjust="spacingAndGlyphs">Ноя</text>
<text x="926.88" y="500.3" font-size="6.7" fill="#dcdcdc" stroke="#dcdcdc" stroke-width="0.12" textLength="13.9" lengthAdjust="spacingAndGlyphs">2028</text>
<text x="5.2" y="10" font-size="6.9" fill="#f2f2f2" stroke="#f2f2f2" stroke-width="0.15" textLength="53.6" lengthAdjust="spacingAndGlyphs">MONDIARA_Trading</text>
<text x="60.9" y="10" font-size="6.9" fill="#f2f2f2" stroke="#f2f2f2" stroke-width="0.15" textLength="28.1" lengthAdjust="spacingAndGlyphs">создал(а)</text>
<text x="91.0" y="10" font-size="6.9" fill="#f2f2f2" stroke="#f2f2f2" stroke-width="0.15" textLength="21.2" lengthAdjust="spacingAndGlyphs">график</text>
<text x="114.3" y="10" font-size="6.9" fill="#f2f2f2" stroke="#f2f2f2" stroke-width="0.15" textLength="7.0" lengthAdjust="spacingAndGlyphs">на</text>
<text x="123.0" y="10" font-size="6.9" fill="#f2f2f2" stroke="#f2f2f2" stroke-width="0.15" textLength="49.8" lengthAdjust="spacingAndGlyphs">TradingView.com,</text>
<text x="174.9" y="10" font-size="6.9" fill="#f2f2f2" stroke="#f2f2f2" stroke-width="0.15" textLength="10.9" lengthAdjust="spacingAndGlyphs">Фев</text>
<text x="188.6" y="10" font-size="6.9" fill="#f2f2f2" stroke="#f2f2f2" stroke-width="0.15" textLength="7.9" lengthAdjust="spacingAndGlyphs">17,</text>
<text x="199" y="10" font-size="6.9" fill="#f2f2f2" stroke="#f2f2f2" stroke-width="0.15" textLength="12.9" lengthAdjust="spacingAndGlyphs">2026</text>
<text x="214.7" y="10" font-size="6.9" fill="#f2f2f2" stroke="#f2f2f2" stroke-width="0.15" textLength="14.7" lengthAdjust="spacingAndGlyphs">13:36</text>
<text x="231.9" y="10" font-size="6.9" fill="#f2f2f2" stroke="#f2f2f2" stroke-width="0.15" textLength="18.5" lengthAdjust="spacingAndGlyphs">UTC+3</text>
<text x="9.5" y="24.5" font-size="6.8" fill="#dcdcdc" stroke="#dcdcdc" stroke-width="0.12" textLength="18.3" lengthAdjust="spacingAndGlyphs">Полюс</text>
<text x="29.5" y="24.5" font-size="6.8" fill="#dcdcdc" stroke="#dcdcdc" stroke-width="0.12" textLength="13.0" lengthAdjust="spacingAndGlyphs">ПАО</text>
<text x="44.7" y="24.5" font-size="6.8" fill="#dcdcdc" stroke="#dcdcdc" stroke-width="0.12" textLength="1.8" lengthAdjust="spacingAndGlyphs">-</text>
<text x="48.2" y="24.5" font-size="6.8" fill="#dcdcdc" stroke="#dcdcdc" stroke-width="0.12" textLength="19.8" lengthAdjust="spacingAndGlyphs">обыкн.</text>
<text x="71.2" y="24.5" font-size="6.8" fill="#dcdcdc" stroke="#dcdcdc" stroke-width="0.12" textLength="1.1" lengthAdjust="spacingAndGlyphs">·</text>
<text x="75.5" y="24.5" font-size="6.8" fill="#dcdcdc" stroke="#dcdcdc" stroke-width="0.12" textLength="7.0" lengthAdjust="spacingAndGlyphs">1Н</text>
<text x="84.9" y="24.5" font-size="6.8" fill="#dcdcdc" stroke="#dcdcdc" stroke-width="0.12" textLength="1.1" lengthAdjust="spacingAndGlyphs">·</text>
<text x="88.8" y="24.5" font-size="6.8" fill="#dcdcdc" stroke="#dcdcdc" stroke-width="0.12" textLength="10.7" lengthAdjust="spacingAndGlyphs">RUS</text>
<text x="103.5" y="24.5" font-size="6.8" fill="#dcdcdc" stroke="#dcdcdc" stroke-width="0.12" textLength="15.5" lengthAdjust="spacingAndGlyphs">ОТКР</text>
<text x="143.3" y="24.5" font-size="6.8" fill="#dcdcdc" stroke="#dcdcdc" stroke-width="0.12" textLength="15.7" lengthAdjust="spacingAndGlyphs">МАКС</text>
<text x="182.8" y="24.5" font-size="6.8" fill="#dcdcdc" stroke="#dcdcdc" stroke-width="0.12" textLength="13.2" lengthAdjust="spacingAndGlyphs">МИН</text>
<text x="219.8" y="24.5" font-size="6.8" fill="#dcdcdc" stroke="#dcdcdc" stroke-width="0.12" textLength="14.2" lengthAdjust="spacingAndGlyphs">ЗАКР</text>
<text x="303.3" y="24.5" font-size="6.8" fill="#dcdcdc" stroke="#dcdcdc" stroke-width="0.12" textLength="19.9" lengthAdjust="spacingAndGlyphs">Объём</text>
<text x="119.3" y="24.5" font-size="6.8" fill="#f23645" stroke="#f23645" stroke-width="0.12" textLength="19.7" lengthAdjust="spacingAndGlyphs">2 528,0</text>
<text x="159.3" y="24.5" font-size="6.8" fill="#f23645" stroke="#f23645" stroke-width="0.12" textLength="19.5" lengthAdjust="spacingAndGlyphs">2 528,8</text>
<text x="196.3" y="24.5" font-size="6.8" fill="#f23645" stroke="#f23645" stroke-width="0.12" textLength="19.5" lengthAdjust="spacingAndGlyphs">2 435,0</text>
<text x="234.3" y="24.5" font-size="6.8" fill="#f23645" stroke="#f23645" stroke-width="0.12" textLength="19.7" lengthAdjust="spacingAndGlyphs">2 450,6</text>
<text x="258.3" y="24.5" font-size="6.8" fill="#f23645" stroke="#f23645" stroke-width="0.12" textLength="15.0" lengthAdjust="spacingAndGlyphs">−83,2</text>
<text x="275.8" y="24.5" font-size="6.8" fill="#f23645" stroke="#f23645" stroke-width="0.12" textLength="23.4" lengthAdjust="spacingAndGlyphs">(−3,28%)</text>
<text x="323.5" y="24.5" font-size="6.8" fill="#f23645" stroke="#f23645" stroke-width="0.12" textLength="17.3" lengthAdjust="spacingAndGlyphs">1,72 M</text>
<text x="344.8" y="24.5" font-size="6.8" fill="#f23645" stroke="#f23645" stroke-width="0.12" textLength="15.5" lengthAdjust="spacingAndGlyphs">−18,4</text>
<text x="362.8" y="24.5" font-size="6.8" fill="#f23645" stroke="#f23645" stroke-width="0.12" textLength="23.4" lengthAdjust="spacingAndGlyphs">(−0,75%)</text>
<text x="9.5" y="33.4" font-size="6.8" fill="#dcdcdc" stroke="#dcdcdc" stroke-width="0.12" textLength="15.5" lengthAdjust="spacingAndGlyphs">FBMA</text>
<g transform="translate(6.2,515.3) scale(0.431)" fill="#ffffff"><path d="M14 22H7V11H0V4h14v18zM28 22h-8l7.5-18h8L28 22z"/><circle cx="20" cy="8" r="4"/></g>
<text x="26.2" y="524.5" font-size="10.5" font-weight="bold" fill="#ffffff" textLength="63.1" lengthAdjust="spacingAndGlyphs">TradingView</text>
</svg>
</body></html>
